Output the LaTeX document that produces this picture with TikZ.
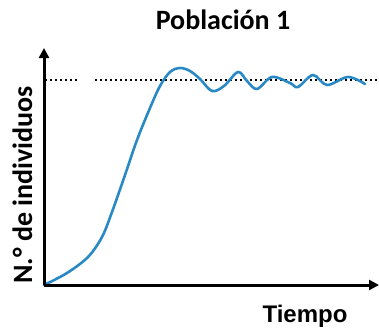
\documentclass[tikz,border=0pt]{standalone}
\usepackage{fontspec}
\setmainfont{Carlito}
\newfontfamily\arialb{Liberation Sans}
\usetikzlibrary{arrows.meta}
\definecolor{curveblue}{RGB}{41,137,197}
\tikzset{
  axisline/.style={line width=3pt,-{Triangle[length=10pt,width=10pt]}},
  limitline/.style={line width=2pt,dash pattern=on 2pt off 3pt},
  growth/.style={curveblue,line width=2.6pt,line cap=round},
  labeltext/.style={font=\bfseries\fontsize{28}{30}\selectfont,inner sep=0pt}
}
\begin{document}
\begin{tikzpicture}[x=1pt,y=-1pt]
\useasboundingbox (0,0) rectangle (379,329);
\coordinate (O) at (44,285);
\coordinate (Ytop) at (44,48);
\coordinate (Xend) at (379,285);
\coordinate (K1) at (45,80);
\coordinate (K2) at (77,80);
\coordinate (K3) at (95,80);
\coordinate (K4) at (377,80);
\draw[limitline] (K1) -- (K2);
\draw[limitline] (K3) -- (K4);
\draw[growth] plot[smooth,tension=0.55] coordinates {
 (44,285) (67,273) (88,257) (102,237) (112,212) (125,175) (137,140) (150,108) (160,86)
 (170,72) (180,68) (190,71) (200,79) (212,91) (224,86) (238,72) (247,81) (257,89)
 (272,77) (290,83) (298,87) (313,75) (327,85) (348,77) (365,84)};
\draw[axisline] (O) -- (Ytop);
\draw[axisline] (O) -- (Xend);
\node[labeltext,anchor=base] (title) at (223,30) {Población 1};
\node[labeltext,anchor=base,font=\arialb\bfseries\fontsize{24}{26}\selectfont] (xlab) at (305,322) {Tiempo};
\node[labeltext,anchor=base,rotate=90] (ylab) at (32,185) {N.° de individuos};
\end{tikzpicture}
\end{document}
